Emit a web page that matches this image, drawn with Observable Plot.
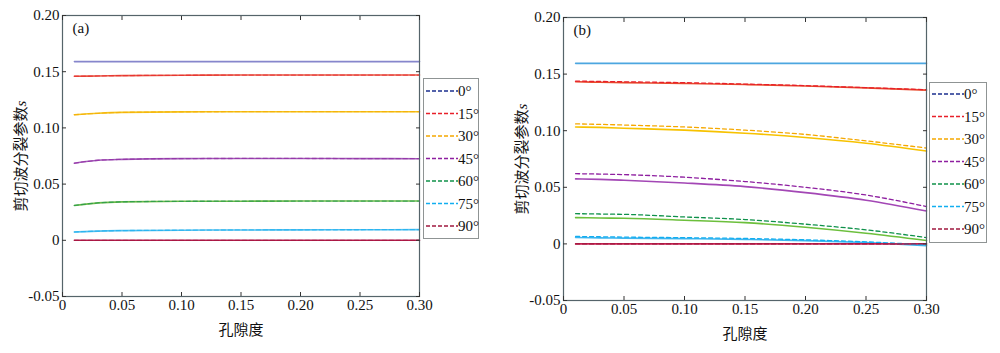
<!DOCTYPE html>
<html><head><meta charset="utf-8">
<script src="https://cdn.jsdelivr.net/npm/d3@7"></script>
<script src="https://cdn.jsdelivr.net/npm/@observablehq/plot@0.6"></script>
<style>
body{margin:0;background:#fff;}
#wrap{display:flex;width:1000px;height:353px;}
.panel{position:relative;width:500px;height:353px;}
.panel svg text{font-family:"Liberation Serif","Noto Sans CJK SC",serif;}
.legend{position:absolute;background:#fff;border:1px solid #8f9494;box-sizing:border-box;}
</style></head><body><div id="wrap"></div>
<script>
// ---- data ----
const porosity = [0.01, 0.03, 0.05, 0.10, 0.15, 0.20, 0.25, 0.30];
const angles = ["0°", "15°", "30°", "45°", "60°", "75°", "90°"];
const xTicks = [0, 0.05, 0.10, 0.15, 0.20, 0.25, 0.30];
const yTicks = [-0.05, 0, 0.05, 0.10, 0.15, 0.20];
const yLabelText = "剪切波分裂参数";
const yLabelSym = "s";
const xLabelText = "孔隙度";
const legendColors = ["#1b2f8f", "#e8202a", "#f5a800", "#8e1fa0", "#0f914a", "#12aef0", "#a0183f"];

// panel (a)
const aSolid0  = [0.159, 0.159, 0.159, 0.159, 0.159, 0.159, 0.159, 0.159];
const aSolid15 = [0.1460, 0.1462, 0.1465, 0.1468, 0.1470, 0.1470, 0.1470, 0.1470];
const aSolid30 = [0.1117, 0.1130, 0.1138, 0.1143, 0.1144, 0.1144, 0.1144, 0.1144];
const aSolid45 = [0.0686, 0.0712, 0.0720, 0.0727, 0.0728, 0.0728, 0.0727, 0.0726];
const aSolid60 = [0.0310, 0.0333, 0.0342, 0.0347, 0.0348, 0.0349, 0.0349, 0.0349];
const aSolid75 = [0.0074, 0.0082, 0.0086, 0.0090, 0.0092, 0.0093, 0.0094, 0.0095];
const aSolid90 = [0, 0, 0, 0, 0, 0, 0, 0];
const aSolidColors = ["#8686cc", "#e85540", "#f5c41a", "#a35cb8", "#6cba48", "#52c0f0", "#b3194a"];

// panel (b)
const bSolid0  = [0.1595, 0.1595, 0.1595, 0.1595, 0.1595, 0.1595, 0.1595, 0.1595];
const bSolid15 = [0.1432, 0.1428, 0.1425, 0.1418, 0.1408, 0.1395, 0.1378, 0.1358];
const bSolid30 = [0.1033, 0.1029, 0.1022, 0.1005, 0.0978, 0.0940, 0.0889, 0.0820];
const bSolid45 = [0.0574, 0.0570, 0.0562, 0.0538, 0.0506, 0.0453, 0.0386, 0.0291];
const bSolid60 = [0.0232, 0.0229, 0.0226, 0.0209, 0.0188, 0.0147, 0.0094, 0.0030];
const bSolid75 = [0.0056, 0.0053, 0.0051, 0.0047, 0.0040, 0.0029, 0.0012, -0.0015];
const bSolid90 = [0, 0, 0, 0, 0, 0, 0, 0];
const bDash15 = [0.1438, 0.1435, 0.1432, 0.1424, 0.1412, 0.1398, 0.1380, 0.1362];
const bDash30 = [0.1060, 0.1056, 0.1050, 0.1033, 0.1005, 0.0967, 0.0910, 0.0847];
const bDash45 = [0.0620, 0.0617, 0.0612, 0.0589, 0.0551, 0.0500, 0.0432, 0.0330];
const bDash60 = [0.0267, 0.0264, 0.0261, 0.0238, 0.0215, 0.0174, 0.0124, 0.0056];
const bDash75 = [0.0066, 0.0063, 0.0060, 0.0055, 0.0048, 0.0036, 0.0018, -0.0008];
const bDash90 = [0, 0, 0, 0, 0, 0, 0, 0];
const bSolidColors = ["#4ca6e0", "#e84a2c", "#f7c200", "#a347b5", "#6cbf3c", "#3fb5ef", "#c41e4e"];

const fmt = d => d === 0 ? "0" : d.toFixed(2);

function rows(series) {
  return series.map(vals => vals.map((v, j) => ({p: porosity[j], v})));
}

function makePanel(cfg) {
  const marks = [];
  rows(cfg.solid).forEach((data, i) => {
    marks.push(Plot.line(data, {x: "p", y: "v", stroke: cfg.solidColors[i], strokeWidth: 1.6, curve: "monotone-x"}));
  });
  rows(cfg.dashed).forEach((data, i) => {
    marks.push(Plot.line(data, {x: "p", y: "v", stroke: cfg.dashColors[i], strokeWidth: 1.3, strokeDasharray: "4,3", strokeOpacity: cfg.dashOpacity, curve: "monotone-x"}));
  });
  const plot = Plot.plot({
    width: 500, height: 353,
    marginLeft: cfg.m[0], marginRight: cfg.m[1], marginTop: cfg.m[2], marginBottom: cfg.m[3],
    style: {fontFamily: '"Liberation Serif", "Noto Sans CJK SC", serif', fontSize: "15px", color: "#111", background: "#fff"},
    x: {domain: [0, 0.3]},
    y: {domain: [-0.05, 0.2]},
    marks: [
      ...marks,
      Plot.frame({stroke: "#55646a", strokeWidth: 1.2}),
      Plot.axisY({anchor: "left", ticks: yTicks, tickSize: 0, tickPadding: 3, tickFormat: fmt,
        label: yLabelText + yLabelSym, labelAnchor: "center", labelArrow: "none", labelOffset: 47}),
      Plot.axisY({anchor: "left", ticks: yTicks, tickSize: -4, tickFormat: () => "", label: null, stroke: "#333"}),
      Plot.axisY({anchor: "right", ticks: yTicks, tickSize: -4, tickFormat: () => "", label: null, stroke: "#333"}),
      Plot.axisX({anchor: "bottom", ticks: xTicks, tickSize: 0, tickPadding: 3, tickFormat: fmt,
        label: xLabelText, labelAnchor: "center", labelArrow: "none", labelOffset: 38}),
      Plot.axisX({anchor: "bottom", ticks: xTicks, tickSize: -4, tickFormat: () => "", label: null, stroke: "#333"}),
      Plot.axisX({anchor: "top", ticks: xTicks, tickSize: -4, tickFormat: () => "", label: null, stroke: "#333"}),
      Plot.text([cfg.tag], {frameAnchor: "top-left", dx: 10, dy: 7, fontSize: 15})
    ]
  });
  // italic symbol in the y label
  d3.select(plot).selectAll("text").each(function() {
    if (this.textContent === yLabelText + yLabelSym) {
      const t = d3.select(this);
      t.text(yLabelText);
      t.append("tspan").attr("font-style", "italic").text(yLabelSym);
    }
  });
  const div = document.createElement("div");
  div.className = "panel";
  div.appendChild(plot);
  // legend
  const lg = document.createElement("div");
  lg.className = "legend";
  lg.style.left = cfg.legend[0] + "px";
  lg.style.top = cfg.legend[1] + "px";
  lg.style.width = cfg.legend[2] + "px";
  lg.style.height = "161px";
  const svg = d3.select(lg).append("svg").attr("width", cfg.legend[2]).attr("height", 161)
    .style("position", "absolute").style("left", "-1px").style("top", "-1px");
  angles.forEach((a, i) => {
    const y = cfg.legend[3] + i * 22.5;
    svg.append("line").attr("x1", 3).attr("x2", 35).attr("y1", y).attr("y2", y)
      .attr("stroke", legendColors[i]).attr("stroke-width", 1.6).attr("stroke-dasharray", "4,2");
    svg.append("text").attr("x", 35).attr("y", y + 5).text(a)
      .attr("font-size", 15).attr("fill", "#111");
  });
  div.appendChild(lg);
  return div;
}

const wrap = document.getElementById("wrap");
wrap.appendChild(makePanel({
  tag: "(a)",
  solid: [aSolid0, aSolid15, aSolid30, aSolid45, aSolid60, aSolid75, aSolid90],
  dashed: [aSolid15, aSolid30, aSolid45, aSolid60, aSolid75, aSolid90],
  solidColors: aSolidColors,
  dashColors: legendColors.slice(1),
  dashOpacity: 0.6,
  m: [62, 81, 15, 57],
  legend: [423, 78, 56, 13]
}));
wrap.appendChild(makePanel({
  tag: "(b)",
  solid: [bSolid0, bSolid15, bSolid30, bSolid45, bSolid60, bSolid75, bSolid90],
  dashed: [bDash15, bDash30, bDash45, bDash60, bDash75, bDash90],
  solidColors: bSolidColors,
  dashColors: legendColors.slice(1),
  dashOpacity: 1,
  m: [63, 74, 17, 53],
  legend: [429, 82, 58, 12]
}));
</script></body></html>
